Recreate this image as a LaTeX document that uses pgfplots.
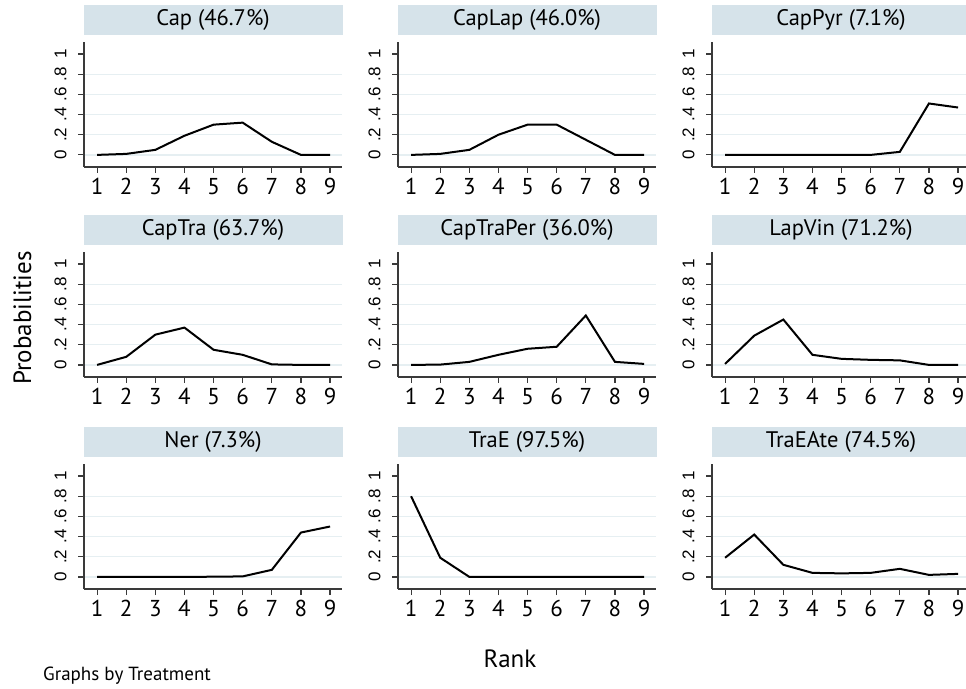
\documentclass[border=0pt]{standalone}
\usepackage{pgfplots}
\pgfplotsset{compat=1.18}
\usepackage{pgfplotstable}
\usepackage{fontspec}
\setmainfont{PT Sans}
\newfontfamily\tickfont{Liberation Sans}
\definecolor{stripc}{HTML}{D6E3EA}
\definecolor{gridc}{HTML}{E6EFF2}
\definecolor{axisc}{HTML}{3A3A3A}

\pgfplotstableread{
x y
1 0
2 0.01
3 0.05
4 0.19
5 0.30
6 0.32
7 0.13
8 0
9 0
}\tCap
\pgfplotstableread{
x y
1 0
2 0.01
3 0.05
4 0.20
5 0.30
6 0.30
7 0.15
8 0
9 0
}\tCapLap
\pgfplotstableread{
x y
1 0
2 0
3 0
4 0
5 0
6 0
7 0.03
8 0.51
9 0.47
}\tCapPyr
\pgfplotstableread{
x y
1 0
2 0.08
3 0.30
4 0.37
5 0.15
6 0.10
7 0.005
8 0
9 0
}\tCapTra
\pgfplotstableread{
x y
1 0
2 0.003
3 0.03
4 0.10
5 0.16
6 0.18
7 0.49
8 0.03
9 0.01
}\tCapTraPer
\pgfplotstableread{
x y
1 0.01
2 0.29
3 0.45
4 0.10
5 0.06
6 0.05
7 0.045
8 0
9 0
}\tLapVin
\pgfplotstableread{
x y
1 0
2 0
3 0
4 0
5 0.002
6 0.005
7 0.07
8 0.44
9 0.50
}\tNer
\pgfplotstableread{
x y
1 0.80
2 0.19
3 0
4 0
5 0
6 0
7 0
8 0
9 0
}\tTraE
\pgfplotstableread{
x y
1 0.19
2 0.42
3 0.12
4 0.04
5 0.035
6 0.04
7 0.08
8 0.02
9 0.03
}\tTraEAte

\pgfplotsset{
  panel/.style={
    scale only axis, width=258pt, height=125pt, anchor=south west,
    xmin=0.55, xmax=9.41, ymin=-0.12, ymax=1.12,
    axis lines*=left,
    axis line style={-, draw=axisc, line width=1.4pt},
    xtick={1,2,3,4,5,6,7,8,9},
    xticklabels={1,2,3,4,5,6,7,8,9},
    ytick={0,0.2,0.4,0.6,0.8},
    yticklabels={0,.2,.4,.6,.8},
    extra y ticks={1}, extra y tick labels={1},
    extra y tick style={grid=none},
    ymajorgrids, major grid style={gridc, line width=1.5pt},
    tick align=outside, major tick length=6pt,
    tick style={axisc, line width=1.2pt},
    xticklabel shift=2pt,
    yticklabel shift=8pt,
    xticklabel style={font=\fontsize{23}{23}\selectfont},
    yticklabel style={rotate=90, anchor=south, font=\tickfont\fontsize{17}{17}\selectfont},
    title style={at={(rel axis cs:0.5,1)}, anchor=south, yshift=1pt,
      fill=stripc, minimum width=259pt, minimum height=30pt, inner sep=0pt,
      font=\fontsize{22.5}{22.5}\selectfont},
  },
  dline/.style={black, line width=2pt, mark=none},
}

\newcommand{\panel}[4]{%
  \begin{axis}[panel, at={(#1pt,#2pt)}, title={#3}]
    \addplot[dline] table[x=x,y=y] {#4};
  \end{axis}}

\begin{document}
\begin{tikzpicture}
\path[use as bounding box] (0pt,0pt) rectangle (966pt,688pt);
\panel{84}{521}{Cap (46.7\%)}{\tCap}
\panel{398}{521}{CapLap (46.0\%)}{\tCapLap}
\panel{712}{521}{CapPyr (7.1\%)}{\tCapPyr}
\panel{84}{311}{CapTra (63.7\%)}{\tCapTra}
\panel{398}{311}{CapTraPer (36.0\%)}{\tCapTraPer}
\panel{712}{311}{LapVin (71.2\%)}{\tLapVin}
\panel{84}{99}{Ner (7.3\%)}{\tNer}
\panel{398}{99}{TraE (97.5\%)}{\tTraE}
\panel{712}{99}{TraEAte (74.5\%)}{\tTraEAte}
\node[rotate=90, font=\fontsize{25}{25}\selectfont] at (22.5pt,370pt) {Probabilities};
\node[anchor=base, font=\fontsize{25}{25}\selectfont] at (510pt,21pt) {Rank};
\node[anchor=base west, font=\fontsize{19}{19}\selectfont, inner sep=0pt] at (43pt,8pt) {Graphs by Treatment};
\end{tikzpicture}
\end{document}
